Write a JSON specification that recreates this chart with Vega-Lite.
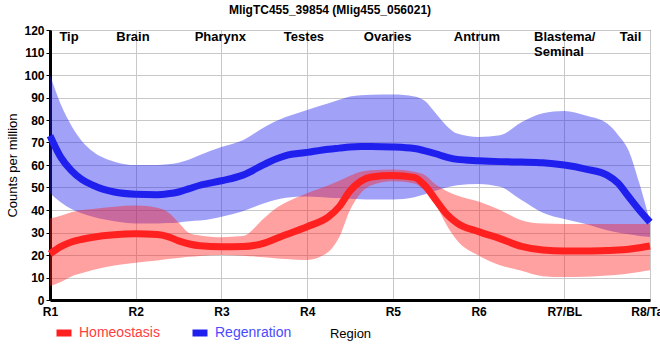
{
  "$schema": "https://vega.github.io/schema/vega-lite/v6.json",
  "width": 600,
  "height": 270,
  "autosize": {"type": "none"},
  "padding": {"left": 50, "top": 30, "right": 10, "bottom": 60},
  "background": "white",
  "config": {
    "font": "Liberation Sans",
    "view": {"stroke": "black", "strokeWidth": 1},
    "axisY": {
      "tickCount": 13,
      "labelFontWeight": "bold", "labelFontSize": 12, "labelColor": "black",
      "labelFlush": false, "labelOverlap": false, "labelBound": false,
      "tickColor": "black", "tickSize": 4, "labelPadding": 2,
      "domainColor": "black", "domainWidth": 3,
      "gridColor": "#c8c8c8", "gridWidth": 1,
      "titleFontSize": 13, "titleFontWeight": "normal", "titleColor": "black", "titlePadding": 4
    }
  },
  "title": {"text": "MligTC455_39854 (Mlig455_056021)", "fontSize": 12, "fontWeight": "bold", "color": "black", "anchor": "middle", "dx": -20, "offset": 7},
  "datasets": {
    "series": [
      {"series": "Regenration", "x": 1, "mean": 73, "lo": 47.5, "hi": 100},
      {"series": "Regenration", "x": 1.125, "mean": 63.5, "lo": 43.5, "hi": 87},
      {"series": "Regenration", "x": 1.25, "mean": 57.5, "lo": 40.5, "hi": 77.5},
      {"series": "Regenration", "x": 1.375, "mean": 53.5, "lo": 38.5, "hi": 70.5},
      {"series": "Regenration", "x": 1.5, "mean": 51, "lo": 37, "hi": 66},
      {"series": "Regenration", "x": 1.75, "mean": 48, "lo": 35, "hi": 61.5},
      {"series": "Regenration", "x": 2, "mean": 47, "lo": 34, "hi": 60},
      {"series": "Regenration", "x": 2.25, "mean": 46.8, "lo": 34, "hi": 60},
      {"series": "Regenration", "x": 2.375, "mean": 47.2, "lo": 34.2, "hi": 60.3},
      {"series": "Regenration", "x": 2.5, "mean": 48, "lo": 34.5, "hi": 61},
      {"series": "Regenration", "x": 2.625, "mean": 49.5, "lo": 35, "hi": 62.5},
      {"series": "Regenration", "x": 2.75, "mean": 51, "lo": 35.3, "hi": 64.5},
      {"series": "Regenration", "x": 3, "mean": 53, "lo": 37, "hi": 68},
      {"series": "Regenration", "x": 3.25, "mean": 55.5, "lo": 39.5, "hi": 71},
      {"series": "Regenration", "x": 3.5, "mean": 60.3, "lo": 43, "hi": 76.8},
      {"series": "Regenration", "x": 3.625, "mean": 62.5, "lo": 44.5, "hi": 79.3},
      {"series": "Regenration", "x": 3.75, "mean": 64.2, "lo": 45.5, "hi": 81.3},
      {"series": "Regenration", "x": 4, "mean": 65.6, "lo": 46, "hi": 84.5},
      {"series": "Regenration", "x": 4.25, "mean": 67, "lo": 45.5, "hi": 87.5},
      {"series": "Regenration", "x": 4.375, "mean": 67.5, "lo": 45.3, "hi": 89},
      {"series": "Regenration", "x": 4.5, "mean": 68, "lo": 45, "hi": 90.5},
      {"series": "Regenration", "x": 4.625, "mean": 68.2, "lo": 44.8, "hi": 91},
      {"series": "Regenration", "x": 4.75, "mean": 68.2, "lo": 44.7, "hi": 91.2},
      {"series": "Regenration", "x": 5, "mean": 68, "lo": 44.7, "hi": 91.3},
      {"series": "Regenration", "x": 5.25, "mean": 67.3, "lo": 45.7, "hi": 90.5},
      {"series": "Regenration", "x": 5.375, "mean": 66.3, "lo": 47, "hi": 88.5},
      {"series": "Regenration", "x": 5.5, "mean": 65, "lo": 48.6, "hi": 83},
      {"series": "Regenration", "x": 5.625, "mean": 63.5, "lo": 50, "hi": 77.5},
      {"series": "Regenration", "x": 5.75, "mean": 62.5, "lo": 51, "hi": 74},
      {"series": "Regenration", "x": 6, "mean": 61.9, "lo": 51.6, "hi": 72.5},
      {"series": "Regenration", "x": 6.25, "mean": 61.5, "lo": 50.3, "hi": 73.2},
      {"series": "Regenration", "x": 6.5, "mean": 61.3, "lo": 44.5, "hi": 79},
      {"series": "Regenration", "x": 6.75, "mean": 61, "lo": 38.8, "hi": 83},
      {"series": "Regenration", "x": 7, "mean": 60, "lo": 36, "hi": 84},
      {"series": "Regenration", "x": 7.25, "mean": 58.2, "lo": 33.8, "hi": 82},
      {"series": "Regenration", "x": 7.5, "mean": 55.5, "lo": 31, "hi": 78.4},
      {"series": "Regenration", "x": 7.625, "mean": 52, "lo": 30, "hi": 73.5},
      {"series": "Regenration", "x": 7.75, "mean": 46, "lo": 29.2, "hi": 66.5},
      {"series": "Regenration", "x": 7.875, "mean": 40, "lo": 28.5, "hi": 52},
      {"series": "Regenration", "x": 8, "mean": 34.6, "lo": 28, "hi": 34.8},
      {"series": "Homeostasis", "x": 1, "mean": 20.5, "lo": 6.2, "hi": 36.3},
      {"series": "Homeostasis", "x": 1.125, "mean": 23.7, "lo": 8, "hi": 37.5},
      {"series": "Homeostasis", "x": 1.25, "mean": 25.8, "lo": 10.5, "hi": 39},
      {"series": "Homeostasis", "x": 1.375, "mean": 27, "lo": 12, "hi": 40},
      {"series": "Homeostasis", "x": 1.5, "mean": 27.9, "lo": 13.3, "hi": 40.5},
      {"series": "Homeostasis", "x": 1.75, "mean": 29, "lo": 15.3, "hi": 41.5},
      {"series": "Homeostasis", "x": 2, "mean": 29.4, "lo": 16.6, "hi": 42},
      {"series": "Homeostasis", "x": 2.25, "mean": 29.1, "lo": 17.6, "hi": 41},
      {"series": "Homeostasis", "x": 2.375, "mean": 28.2, "lo": 18.2, "hi": 39},
      {"series": "Homeostasis", "x": 2.5, "mean": 26.3, "lo": 18.7, "hi": 34.5},
      {"series": "Homeostasis", "x": 2.625, "mean": 24.9, "lo": 19.2, "hi": 29.8},
      {"series": "Homeostasis", "x": 2.75, "mean": 24.1, "lo": 19.6, "hi": 28.7},
      {"series": "Homeostasis", "x": 3, "mean": 23.7, "lo": 20, "hi": 27.9},
      {"series": "Homeostasis", "x": 3.25, "mean": 23.8, "lo": 19.7, "hi": 28.4},
      {"series": "Homeostasis", "x": 3.5, "mean": 25.3, "lo": 19, "hi": 36.5},
      {"series": "Homeostasis", "x": 3.625, "mean": 27.1, "lo": 18.6, "hi": 40.5},
      {"series": "Homeostasis", "x": 3.75, "mean": 29, "lo": 18.2, "hi": 43.3},
      {"series": "Homeostasis", "x": 4, "mean": 32.6, "lo": 17.8, "hi": 47.5},
      {"series": "Homeostasis", "x": 4.25, "mean": 37, "lo": 21.5, "hi": 51},
      {"series": "Homeostasis", "x": 4.375, "mean": 41.5, "lo": 28, "hi": 53},
      {"series": "Homeostasis", "x": 4.5, "mean": 48.5, "lo": 40, "hi": 55.2},
      {"series": "Homeostasis", "x": 4.625, "mean": 52.8, "lo": 47.5, "hi": 57},
      {"series": "Homeostasis", "x": 4.75, "mean": 54.7, "lo": 51, "hi": 57.7},
      {"series": "Homeostasis", "x": 5, "mean": 55.3, "lo": 52.8, "hi": 58},
      {"series": "Homeostasis", "x": 5.25, "mean": 54.5, "lo": 51.8, "hi": 57},
      {"series": "Homeostasis", "x": 5.375, "mean": 50.8, "lo": 48.5, "hi": 55.5},
      {"series": "Homeostasis", "x": 5.5, "mean": 44.5, "lo": 42.5, "hi": 51.3},
      {"series": "Homeostasis", "x": 5.625, "mean": 38.3, "lo": 33.5, "hi": 48.5},
      {"series": "Homeostasis", "x": 5.75, "mean": 34.2, "lo": 26.5, "hi": 46.5},
      {"series": "Homeostasis", "x": 6, "mean": 30.4, "lo": 19.8, "hi": 43.8},
      {"series": "Homeostasis", "x": 6.25, "mean": 27.3, "lo": 15.5, "hi": 40},
      {"series": "Homeostasis", "x": 6.5, "mean": 23.8, "lo": 13, "hi": 35.5},
      {"series": "Homeostasis", "x": 6.75, "mean": 22.2, "lo": 10.6, "hi": 34},
      {"series": "Homeostasis", "x": 7, "mean": 21.8, "lo": 10.2, "hi": 33.8},
      {"series": "Homeostasis", "x": 7.25, "mean": 21.8, "lo": 10.3, "hi": 33.8},
      {"series": "Homeostasis", "x": 7.5, "mean": 22, "lo": 10.9, "hi": 33.8},
      {"series": "Homeostasis", "x": 7.625, "mean": 22.2, "lo": 11.2, "hi": 33.8},
      {"series": "Homeostasis", "x": 7.75, "mean": 22.6, "lo": 11.8, "hi": 33.8},
      {"series": "Homeostasis", "x": 7.875, "mean": 23.2, "lo": 12.5, "hi": 33.8},
      {"series": "Homeostasis", "x": 8, "mean": 24, "lo": 13.2, "hi": 33.8}
    ],
    "regions": [
      {"region": "Tip", "pos": 1.222},
      {"region": "Brain", "pos": 1.968},
      {"region": "Pharynx", "pos": 2.987},
      {"region": "Testes", "pos": 3.963},
      {"region": "Ovaries", "pos": 4.94},
      {"region": "Antrum", "pos": 5.98},
      {"region": "Tail", "pos": 7.773}
    ],
    "regions2": [
      {"region": "Blastema/\nSeminal", "pos": 6.647}
    ]
  },
  "layer": [
    {
      "data": {"name": "series"},
      "mark": {"type": "area", "interpolate": "monotone", "opacity": 0.42},
      "encoding": {
        "x": {
          "field": "x", "type": "quantitative",
          "scale": {"domain": [1, 8], "nice": false, "zero": false},
          "axis": {
            "values": [1, 2, 3, 4, 5, 6, 7, 8],
            "labelExpr": "['R1','R2','R3','R4','R5','R6','R7/BL','R8/Tail'][datum.value - 1]",
            "labelFontWeight": "bold", "labelFontSize": 12, "labelColor": "black",
            "labelPadding": 6, "ticks": false, "labelFlush": false, "labelOverlap": false, "labelBound": false,
            "domainColor": "black", "domainWidth": 3,
            "gridColor": "#c8c8c8", "gridWidth": 1,
            "title": "Region", "titleFontSize": 13, "titleFontWeight": "normal", "titleColor": "black", "titlePadding": 10
          }
        },
        "y": {
          "field": "lo", "type": "quantitative",
          "scale": {"domain": [0, 120], "nice": false},
          "axis": {"title": "Counts per million", "values": [0, 10, 20, 30, 40, 50, 60, 70, 80, 90, 100, 110, 120], "labelOverlap": false}
        },
        "y2": {"field": "hi"},
        "color": {
          "field": "series", "type": "nominal",
          "scale": {"domain": ["Homeostasis", "Regenration"], "range": ["#ff2020", "#2020ee"]},
          "legend": {
            "title": null, "orient": "none", "direction": "horizontal",
            "legendX": 3, "legendY": 292,
            "symbolType": "stroke", "symbolSize": 225, "symbolStrokeWidth": 7, "symbolOpacity": 1,
            "labelFontSize": 14, "labelOffset": 4, "columnPadding": 18, "padding": 0,
            "encode": {
              "labels": {"update": {"fill": {"signal": "datum.value === 'Homeostasis' ? '#ff4040' : '#4a4aff'"}}}
            }
          }
        }
      }
    },
    {
      "data": {"name": "series"},
      "mark": {"type": "line", "interpolate": "monotone", "strokeWidth": 7},
      "encoding": {
        "x": {"field": "x", "type": "quantitative"},
        "y": {
          "field": "mean", "type": "quantitative",
          "axis": {"title": "Counts per million", "values": [0, 10, 20, 30, 40, 50, 60, 70, 80, 90, 100, 110, 120], "labelOverlap": false}
        },
        "color": {
          "field": "series", "type": "nominal",
          "scale": {"domain": ["Homeostasis", "Regenration"], "range": ["#ff2020", "#2020ee"]},
          "legend": {
            "title": null, "orient": "none", "direction": "horizontal",
            "legendX": 3, "legendY": 292,
            "symbolType": "stroke", "symbolSize": 225, "symbolStrokeWidth": 7, "symbolOpacity": 1,
            "labelFontSize": 14, "labelOffset": 4, "columnPadding": 18, "padding": 0,
            "encode": {
              "labels": {"update": {"fill": {"signal": "datum.value === 'Homeostasis' ? '#ff4040' : '#4a4aff'"}}}
            }
          }
        }
      }
    },
    {
      "mark": {"type": "rule", "strokeDash": [6, 5], "strokeWidth": 2.5, "color": "black"},
      "encoding": {"x": {"datum": 7.5}}
    },
    {
      "data": {"name": "regions"},
      "mark": {"type": "text", "fontSize": 13, "fontWeight": "bold", "color": "black", "baseline": "top", "align": "center"},
      "encoding": {
        "x": {"field": "pos", "type": "quantitative"},
        "y": {"datum": 119.5, "axis": {"title": "Counts per million", "values": [0, 10, 20, 30, 40, 50, 60, 70, 80, 90, 100, 110, 120], "labelOverlap": false}},
        "text": {"field": "region"}
      }
    },
    {
      "data": {"name": "regions2"},
      "mark": {"type": "text", "fontSize": 13, "fontWeight": "bold", "color": "black", "baseline": "top", "align": "left", "lineBreak": "\n", "lineHeight": 15},
      "encoding": {
        "x": {"field": "pos", "type": "quantitative"},
        "y": {"datum": 119.5, "axis": {"title": "Counts per million", "values": [0, 10, 20, 30, 40, 50, 60, 70, 80, 90, 100, 110, 120], "labelOverlap": false}},
        "text": {"field": "region"}
      }
    }
  ]
}
